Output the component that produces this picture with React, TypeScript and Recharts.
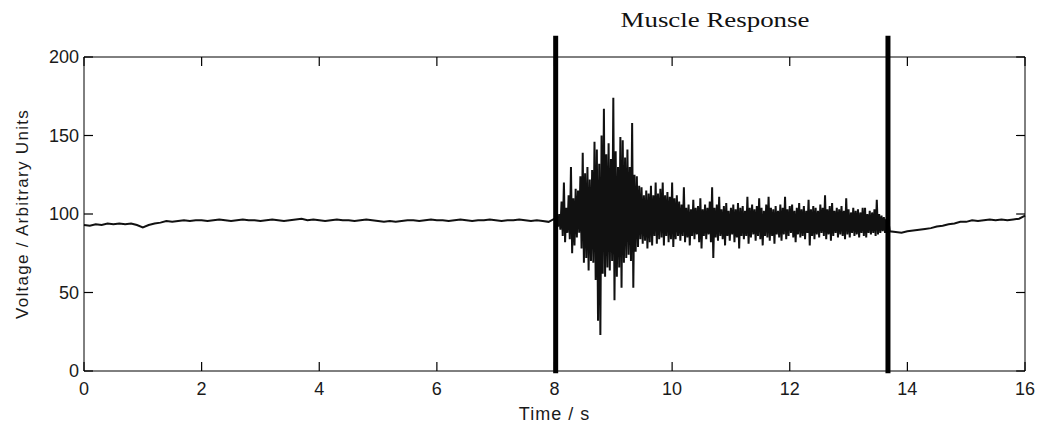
import React from 'react';
import { LineChart, Line, XAxis, YAxis, ReferenceLine, Label } from 'recharts';

// resting signal before the stimulus, one sample every 0.1 s from 0 to 7.9 s
const restBefore = [
  93, 92.5, 93.5, 93, 94, 93.5, 94, 93.5, 94, 93, 91.5, 93, 94, 94.5, 95.5, 95, 95.5, 96, 95.5, 96,
  96, 95.5, 96, 96.5, 96, 95.5, 96, 96.5, 96, 96, 95.5, 96, 96.5, 96, 95.5, 96, 96.5, 97, 96, 96.5,
  96, 95.5, 96, 96.5, 96, 96, 95.5, 96, 96.5, 96, 95.5, 95, 95.5, 95, 95.5, 96, 96, 95.5, 96, 96.5,
  96, 96, 95.5, 96, 96.5, 96, 95.5, 96, 96, 96.5, 96, 95.5, 96, 96, 96.5, 96, 95.5, 96, 95.5, 95,
];

// muscle response, every 0.04 s from 8.00 s: a high sample, then a low one 0.02 s later
const burstPeaks = [
  97, 98, 100, 108, 120, 104, 112, 130, 110, 116,
  115, 124, 139, 126, 130, 122, 128, 146, 141, 132,
  150, 167, 138, 145, 135, 174, 140, 130, 149, 147,
  136, 141, 130, 158, 125, 124, 118, 117, 112, 115,
  113, 118, 112, 120, 113, 116, 120, 112, 114, 111,
  120, 110, 112, 108, 106, 117, 104, 106, 103, 109,
  104, 105, 110, 103, 106, 104, 108, 117, 104, 106,
  111, 103, 105, 107, 102, 104, 106, 103, 107, 104,
  105, 102, 111, 104, 106, 103, 105, 110, 104, 102,
  106, 111, 104, 103, 105, 102, 106, 104, 111, 103,
  105, 106, 102, 104, 107, 103, 105, 102, 109, 103,
  105, 104, 102, 106, 104, 112, 103, 105, 107, 102,
  104, 103, 105, 102, 110, 103, 101, 104, 102, 103,
  101, 104, 104, 100, 102, 101, 103, 109, 100, 99,
  98, 97, 95,
];
const burstTroughs = [
  93, 92, 90, 86, 82, 88, 84, 75, 80, 85,
  88, 78, 69, 72, 64, 70, 69, 58, 32, 23,
  62, 60, 66, 64, 70, 45, 60, 66, 53, 69,
  72, 74, 70, 53, 76, 79, 84, 81, 83, 78,
  82, 80, 86, 81, 84, 85, 80, 86, 82, 84,
  79, 84, 86, 83, 86, 82, 85, 80, 86, 84,
  87, 82, 78, 86, 84, 87, 82, 72, 85, 83,
  86, 84, 80, 86, 83, 87, 82, 85, 78, 86,
  84, 86, 81, 85, 87, 83, 86, 84, 80, 86,
  85, 83, 86, 81, 87, 85, 83, 87, 84, 86,
  88, 85, 82, 87, 85, 86, 84, 88, 80, 86,
  84, 87, 85, 88, 86, 84, 87, 83, 86, 88,
  85, 87, 86, 84, 87, 85, 88, 86, 87, 85,
  88, 86, 85, 88, 87, 88, 86, 87, 88, 89,
  88, 89, 89,
];

// recovery, every 0.1 s from 13.8 to 16.0 s
const restAfter = [
  88.5, 88, 89, 89.5, 90, 90.5, 91, 92, 92.5, 93.5, 94, 95, 95, 96, 95.5, 96, 96.5, 96, 96.5, 96, 96.5, 97, 99,
];

// start and end of the response window
const markerTimes = [8.02, 13.67];

const xTicks = [0, 2, 4, 6, 8, 10, 12, 14, 16];
const yTicks = [0, 50, 100, 150, 200];

const rows: { t: number; v: number }[] = [];
restBefore.forEach((v, i) => rows.push({ t: i * 0.1, v }));
burstPeaks.forEach((p, i) => {
  const t = 8 + i * 0.04;
  rows.push({ t, v: p });
  rows.push({ t: t + 0.02, v: burstTroughs[i] });
});
restAfter.forEach((v, i) => rows.push({ t: 13.8 + i * 0.1, v }));

const sans = '"Liberation Sans", Arial, Helvetica, sans-serif';
const tickFont = { fontSize: 18, fill: '#1a1a1a', fontFamily: sans };
const tickLine = { stroke: '#000', strokeWidth: 1.2 };
// mirrored axes keep their tick marks but show no numbers
const noLabel = () => <g />;

export default function App() {
  return (
    <div style={{ position: 'absolute', left: 0, top: 0, width: 1039, height: 425, background: '#fff' }}>
      <div
        style={{
          position: 'absolute',
          left: 515,
          top: 8,
          width: 400,
          textAlign: 'center',
          fontFamily: '"Liberation Serif", "Times New Roman", serif',
          fontSize: 21,
          color: '#111',
          transform: 'scaleX(1.28)',
          whiteSpace: 'nowrap',
        }}
      >
        Muscle Response
      </div>
      <LineChart width={1039} height={425} data={rows} margin={{ top: 56, right: 13, bottom: 0, left: 0 }}>
        {/* negative tickSize turns the ticks inward, MATLAB style */}
        <XAxis
          dataKey="t"
          type="number"
          domain={[0, 16]}
          ticks={xTicks}
          height={54}
          tickSize={-9}
          tickMargin={20}
          stroke="#000"
          tickLine={tickLine}
          tick={tickFont}
          interval={0}
        >
          <Label
            value="Time / s"
            position="insideBottom"
            offset={5}
            style={{ fontSize: 18, fill: '#1a1a1a', fontFamily: sans, letterSpacing: 1 }}
          />
        </XAxis>
        {/* mirrored frame axes: 1px thick because zero-size axes are not drawn */}
        <XAxis
          xAxisId="top"
          dataKey="t"
          orientation="top"
          type="number"
          domain={[0, 16]}
          ticks={xTicks}
          height={1}
          tickSize={-9}
          stroke="#000"
          tickLine={tickLine}
          tick={noLabel}
          interval={0}
        />
        <YAxis
          type="number"
          domain={[0, 200]}
          ticks={yTicks}
          width={84}
          tickSize={-9}
          tickMargin={14}
          stroke="#000"
          tickLine={tickLine}
          tick={tickFont}
          interval={0}
        >
          <Label
            value="Voltage / Arbitrary Units"
            angle={-90}
            position="insideLeft"
            offset={22}
            style={{ textAnchor: 'middle', fontSize: 17, fill: '#1a1a1a', fontFamily: sans, letterSpacing: 1.3 }}
          />
        </YAxis>
        <YAxis
          yAxisId="right"
          orientation="right"
          type="number"
          domain={[0, 200]}
          ticks={yTicks}
          width={1}
          tickSize={-9}
          stroke="#000"
          tickLine={tickLine}
          tick={noLabel}
          interval={0}
        />
        <Line
          dataKey="v"
          type="linear"
          stroke="#111"
          strokeWidth={2}
          dot={false}
          activeDot={false}
          isAnimationActive={false}
        />
        <Line
          xAxisId="top"
          yAxisId="right"
          dataKey="v"
          stroke="none"
          dot={false}
          activeDot={false}
          isAnimationActive={false}
        />
        {markerTimes.map((m) => (
          <ReferenceLine
            key={m}
            segment={[
              { x: m, y: -1.5 },
              { x: m, y: 213.5 },
            ]}
            stroke="#000"
            strokeWidth={5}
            ifOverflow="visible"
          />
        ))}
      </LineChart>
    </div>
  );
}
